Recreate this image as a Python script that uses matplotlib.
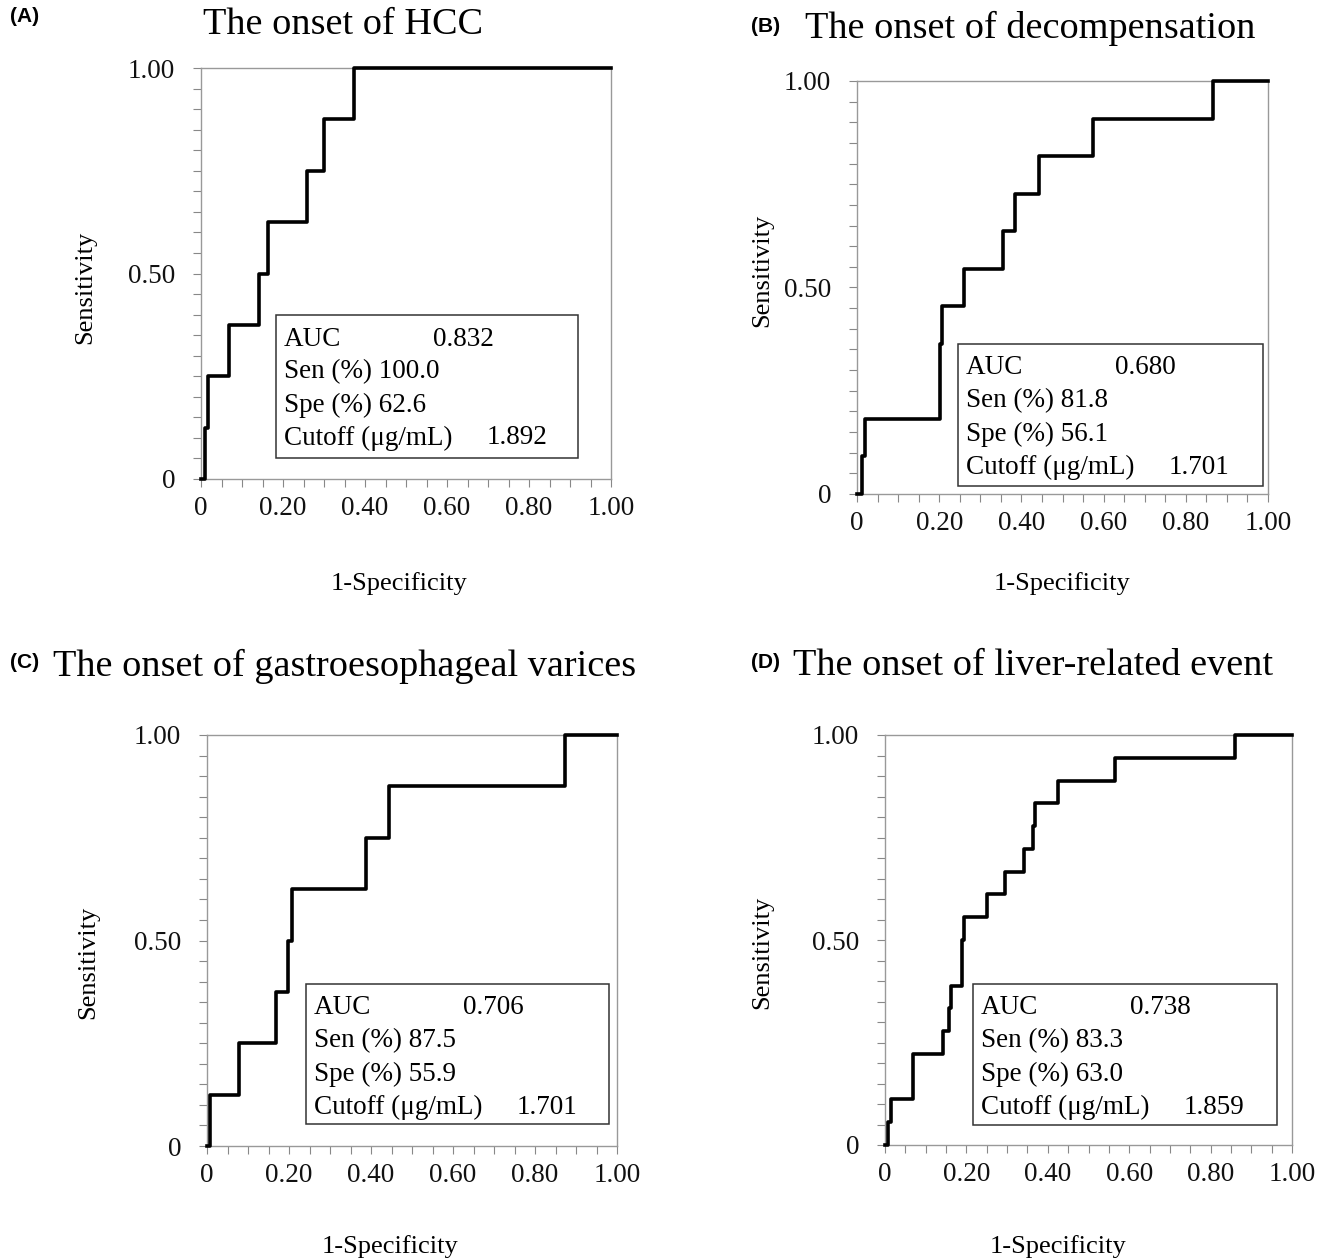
import matplotlib
matplotlib.use("Agg")
import matplotlib.pyplot as plt
import matplotlib.patches as patches
from matplotlib.transforms import Affine2D
from matplotlib.ticker import MultipleLocator, FixedLocator, FixedFormatter

W, H = 1330, 1260

# ROC step curves (1-specificity, sensitivity)
fpr_hcc = [0, 0.010, 0.017, 0.068, 0.141, 0.163, 0.258, 0.300, 0.372, 1.0]
tpr_hcc = [0, 0.125, 0.250, 0.375, 0.500, 0.625, 0.750, 0.875, 1.0, 1.0]

fpr_dec = [0, 0.012, 0.019, 0.202, 0.207, 0.260, 0.355, 0.385, 0.443, 0.574, 0.866, 1.0]
tpr_dec = [0, 0.091, 0.182, 0.364, 0.455, 0.545, 0.636, 0.727, 0.818, 0.909, 1.0, 1.0]

fpr_var = [0, 0.007, 0.078, 0.168, 0.198, 0.207, 0.388, 0.444, 0.873, 1.0]
tpr_var = [0, 0.125, 0.250, 0.375, 0.500, 0.625, 0.750, 0.875, 1.0, 1.0]

fpr_liv = [0, 0.007, 0.015, 0.069, 0.143, 0.158, 0.162, 0.189, 0.194, 0.250,
           0.295, 0.342, 0.364, 0.368, 0.425, 0.565, 0.860, 1.0]
tpr_liv = [0, 0.056, 0.111, 0.222, 0.278, 0.333, 0.389, 0.500, 0.556, 0.611,
           0.667, 0.722, 0.778, 0.833, 0.889, 0.944, 1.0, 1.0]

panel_tags = ['(A)', '(B)', '(C)', '(D)']
titles = ['The onset of HCC', 'The onset of decompensation',
          'The onset of gastroesophageal varices', 'The onset of liver-related event']
auc = ['0.832', '0.680', '0.706', '0.738']
sen = ['100.0', '81.8', '87.5', '83.3']
spe = ['62.6', '56.1', '55.9', '63.0']
cutoff = ['1.892', '1.701', '1.701', '1.859']

xtick_vals = [0, 0.2, 0.4, 0.6, 0.8, 1.0]
xtick_labels = ['0', '0.20', '0.40', '0.60', '0.80', '1.00']
ytick_vals = [0, 0.5, 1.0]
ytick_labels = ['0', '0.50', '1.00']

curves = [(fpr_hcc, tpr_hcc), (fpr_dec, tpr_dec), (fpr_var, tpr_var), (fpr_liv, tpr_liv)]

# layout, in pixels from the top-left corner
axes_px = [(201, 68, 611, 479), (857, 81, 1268, 494),
           (207, 735, 617, 1146), (885, 735, 1292, 1145)]
box_px = [(276, 315, 578, 458), (958, 344, 1263, 486),
          (306, 984, 609, 1124), (973, 984, 1277, 1125)]
title_px = [(343, 25), (1030, 28), (345, 666), (1033, 666)]
tag_px = [(25, 17), (766, 27), (25, 663), (766, 663)]
ylab_px = [(85, 287), (762, 270), (88, 962), (762, 952)]
xlab_px = [(399, 584), (1062, 584), (390, 1247), (1058, 1247)]

serif = 'Liberation Serif'

fig = plt.figure(figsize=(W / 100, H / 100), dpi=100)
px = Affine2D().scale(1.0 / W, -1.0 / H).translate(0, 1) + fig.transFigure

for i in range(4):
    l, t, r, b = axes_px[i]
    ax = fig.add_axes([l / W, 1 - b / H, (r - l) / W, (b - t) / H])
    x, y = curves[i]
    ax.step(x, y, where='post', color='black', lw=2.6, clip_on=False, zorder=3)
    ax.set_xlim(0, 1)
    ax.set_ylim(0, 1)

    ax.xaxis.set_major_locator(FixedLocator(xtick_vals))
    ax.xaxis.set_major_formatter(FixedFormatter(xtick_labels))
    ax.yaxis.set_major_locator(FixedLocator(ytick_vals))
    ax.yaxis.set_major_formatter(FixedFormatter(ytick_labels))
    ax.xaxis.set_minor_locator(MultipleLocator(0.05))
    ax.yaxis.set_minor_locator(MultipleLocator(0.05))
    ax.tick_params(which='both', direction='out', length=5.5, width=0.8, color='#888888')
    ax.tick_params(axis='x', which='major', pad=7)
    ax.tick_params(axis='y', which='major', pad=13)
    for lab in ax.get_xticklabels() + ax.get_yticklabels():
        lab.set_fontfamily(serif)
        lab.set_fontsize(19.5)
        lab.set_color('#111111')
    for sp in ax.spines.values():
        sp.set_color('#999999')
        sp.set_linewidth(1.0)

    # info box
    bx0, by0, bx1, by1 = box_px[i]
    fig.add_artist(patches.Rectangle((bx0, by0), bx1 - bx0, by1 - by0, transform=px,
                                     fill=True, facecolor='white', edgecolor='#333333',
                                     lw=1.1, zorder=5))
    rows = ['AUC', 'Sen (%) ' + sen[i], 'Spe (%) ' + spe[i], 'Cutoff (μg/mL)']
    for k, row in enumerate(rows):
        fig.text(bx0 + 8, by0 + 24 + 33 * k, row, transform=px, family=serif,
                 fontsize=19.5, va='center', ha='left', zorder=6)
    fig.text(bx0 + 157, by0 + 24, auc[i], transform=px, family=serif,
             fontsize=19.5, va='center', ha='left', zorder=6)
    fig.text(bx0 + 211, by0 + 24 + 99, cutoff[i], transform=px, family=serif,
             fontsize=19.5, va='center', ha='left', zorder=6)

    fig.text(*title_px[i], titles[i], transform=px, family=serif, fontsize=27.5,
             ha='center', va='center')
    fig.text(*tag_px[i], panel_tags[i], transform=px, family='Liberation Sans',
             fontweight='bold', fontsize=15, ha='center', va='center')
    fig.text(*ylab_px[i], 'Sensitivity', transform=px, family=serif, fontsize=19,
             rotation=90, ha='center', va='center')
    fig.text(*xlab_px[i], '1-Specificity', transform=px, family=serif, fontsize=19,
             ha='center', va='center')

fig.savefig('out.png', dpi=100, facecolor='white')
